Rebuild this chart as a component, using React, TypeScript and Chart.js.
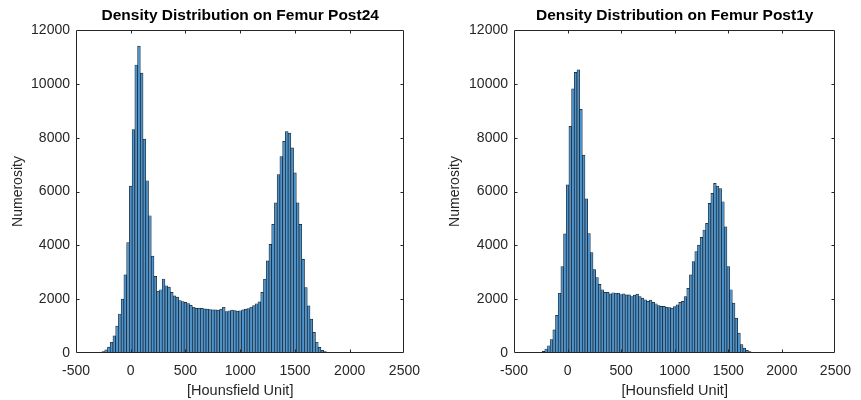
import React, { useEffect, useRef } from "react";
import { Chart, registerables } from "chart.js";

Chart.register(...registerables);

// Histogram bin centres (Hounsfield Unit)
const binCenters = [
  -275, -250, -225, -200, -175, -150, -125, -100, -75, -50, -25, 0, 25, 50, 75, 100, 125,
  150, 175, 200, 225, 250, 275, 300, 325, 350, 375, 400, 425, 450, 475, 500, 525, 550,
  575, 600, 625, 650, 675, 700, 725, 750, 775, 800, 825, 850, 875, 900, 925, 950, 975,
  1000, 1025, 1050, 1075, 1100, 1125, 1150, 1175, 1200, 1225, 1250, 1275, 1300, 1325,
  1350, 1375, 1400, 1425, 1450, 1475, 1500, 1525, 1550, 1575, 1600, 1625, 1650, 1675,
  1700, 1725, 1750, 1775, 1800, 1825,
];

// Counts per bin, Femur Post24
const post24Counts = [
  20, 50, 120, 220, 400, 640, 1000, 1450, 2000, 2900, 4100, 6200, 8300, 10700, 11400, 10400, 7950,
  6400, 5100, 3600, 2850, 2300, 2350, 2750, 2500, 2450, 2250, 2120, 2080, 1950, 1910, 1880, 1840, 1770,
  1700, 1660, 1665, 1655, 1640, 1630, 1610, 1605, 1605, 1590, 1630, 1700, 1540, 1570, 1590, 1580, 1555,
  1570, 1600, 1630, 1650, 1700, 1760, 1830, 1900, 2250, 2740, 3420, 4040, 4780, 5580,
  6630, 7300, 7860, 8230, 8170, 7620, 6690, 5580, 4780, 3480, 2430, 1750, 1260, 770,
  400, 210, 100, 50, 20, 0,
];

// Counts per bin, Femur Post1y
const post1yCounts = [
  0, 20, 60, 150, 270, 500, 860, 1400, 2220, 3210, 4430, 6250, 8420, 9815, 10430, 10520, 9050,
  7350, 5730, 4440, 3730, 3100, 2800, 2550, 2350, 2250, 2250, 2200, 2240, 2220, 2220, 2170, 2200, 2160,
  2160, 2100, 2150, 2190, 2100, 2040, 1980, 1920, 1970, 1880, 1830, 1760, 1730, 1730, 1700, 1690, 1670,
  1720, 1790, 1880, 1920, 2100, 2400, 2900, 3400, 3770, 4010, 4300, 4570, 4820, 5560,
  5930, 6300, 6200, 6110, 5620, 4690, 3210, 2350, 1850, 1300, 740, 310, 185, 100,
  50, 20, 0, 0, 0, 0,
];

const xTickValues = [-500, 0, 500, 1000, 1500, 2000, 2500];
const yTickValues = [0, 2000, 4000, 6000, 8000, 10000, 12000];
const titleLeft = "Density Distribution on Femur Post24";
const titleRight = "Density Distribution on Femur Post1y";
const xLabel = "[Hounsfield Unit]";
const yLabel = "Numerosity";

const FONT = "'Liberation Sans', Arial, Helvetica, sans-serif";
const AXIS_COLOR = "#262626";

const boxPlugin = {
  id: "matlabBox",
  afterDatasetsDraw(chart: any) {
    const { ctx, chartArea: a, scales } = chart;
    const L = Math.round(a.left) + 0.5;
    const R = Math.round(a.right) - 0.5;
    const T = Math.round(a.top) + 0.5;
    const B = Math.round(a.bottom) - 0.5;
    const tl = 3;
    ctx.save();
    ctx.strokeStyle = AXIS_COLOR;
    ctx.lineWidth = 1;
    ctx.beginPath();
    ctx.rect(L, T, R - L, B - T);
    for (const v of xTickValues) {
      const px = Math.round(scales.x.getPixelForValue(v)) + 0.5;
      if (px <= L + 1 || px >= R - 1) continue;
      ctx.moveTo(px, B);
      ctx.lineTo(px, B - tl);
      ctx.moveTo(px, T);
      ctx.lineTo(px, T + tl);
    }
    for (const v of yTickValues) {
      const py = Math.round(scales.y.getPixelForValue(v)) + 0.5;
      if (py <= T + 1 || py >= B - 1) continue;
      ctx.moveTo(L, py);
      ctx.lineTo(L + tl, py);
      ctx.moveTo(R, py);
      ctx.lineTo(R - tl, py);
    }
    ctx.stroke();
    ctx.restore();
  },
};

type HistProps = {
  counts: number[];
  title: string;
  width: number;
  yAxisWidth: number;
  rightPad: number;
  yTitlePad: number;
};

function Histogram({ counts, title, width, yAxisWidth, rightPad, yTitlePad }: HistProps) {
  const ref = useRef<HTMLCanvasElement | null>(null);

  useEffect(() => {
    if (!ref.current) return;
    const chart = new Chart(ref.current, {
      type: "bar",
      data: {
        datasets: [
          {
            data: binCenters.map((x, i) => ({ x, y: counts[i] })),
            backgroundColor: "#4f93cb",
            borderColor: "#15202b",
            borderWidth: 0.7,
            barPercentage: 1,
            categoryPercentage: 1,
          } as any,
        ],
      },
      options: {
        animation: false,
        responsive: false,
        maintainAspectRatio: false,
        layout: { padding: { left: 0, right: rightPad, top: 0, bottom: 0 } },
        plugins: {
          legend: { display: false },
          tooltip: { enabled: false },
          title: {
            display: true,
            text: title,
            fullSize: false,
            color: "#000000",
            font: { family: FONT, size: 15.5, weight: "bold" },
            padding: { top: 6, bottom: 5.4 },
          },
        },
        scales: {
          x: {
            type: "linear",
            min: -500,
            max: 2500,
            offset: false,
            grid: { display: false, drawTicks: false, offset: false },
            border: { display: false },
            afterBuildTicks: (s: any) => {
              s.ticks = xTickValues.map((v) => ({ value: v }));
            },
            ticks: {
              autoSkip: false,
              maxRotation: 0,
              padding: 10,
              color: AXIS_COLOR,
              font: { family: FONT, size: 14 },
              callback: (v: any) => String(v),
            },
            title: {
              display: true,
              text: xLabel,
              color: AXIS_COLOR,
              font: { family: FONT, size: 14.5 },
              padding: 0,
            },
            afterFit: (s: any) => {
              s.height = 47;
            },
          },
          y: {
            type: "linear",
            min: 0,
            max: 12000,
            grid: { display: false, drawTicks: false },
            border: { display: false },
            afterBuildTicks: (s: any) => {
              s.ticks = yTickValues.map((v) => ({ value: v }));
            },
            ticks: {
              padding: 6,
              color: AXIS_COLOR,
              font: { family: FONT, size: 14 },
              callback: (v: any) => String(v),
            },
            title: {
              display: true,
              text: yLabel,
              color: AXIS_COLOR,
              font: { family: FONT, size: 14 },
              padding: { top: yTitlePad, bottom: 0 },
            },
            afterFit: (s: any) => {
              s.width = yAxisWidth;
            },
          },
        },
      } as any,
      plugins: [boxPlugin],
    });
    return () => chart.destroy();
  }, [counts, title, width, yAxisWidth, rightPad, yTitlePad]);

  return (
    <canvas
      ref={ref}
      width={width}
      height={400}
      style={{ display: "block", width: `${width}px`, height: "400px" }}
    />
  );
}

export default function App() {
  return (
    <div
      style={{
        position: "absolute",
        left: 0,
        top: 0,
        width: 861,
        height: 400,
        background: "#ffffff",
        display: "flex",
      }}
    >
      <Histogram counts={post24Counts} title={titleLeft} width={430} yAxisWidth={76} rightPad={22} yTitlePad={10} />
      <Histogram counts={post1yCounts} title={titleRight} width={431} yAxisWidth={84} rightPad={15} yTitlePad={17} />
    </div>
  );
}
